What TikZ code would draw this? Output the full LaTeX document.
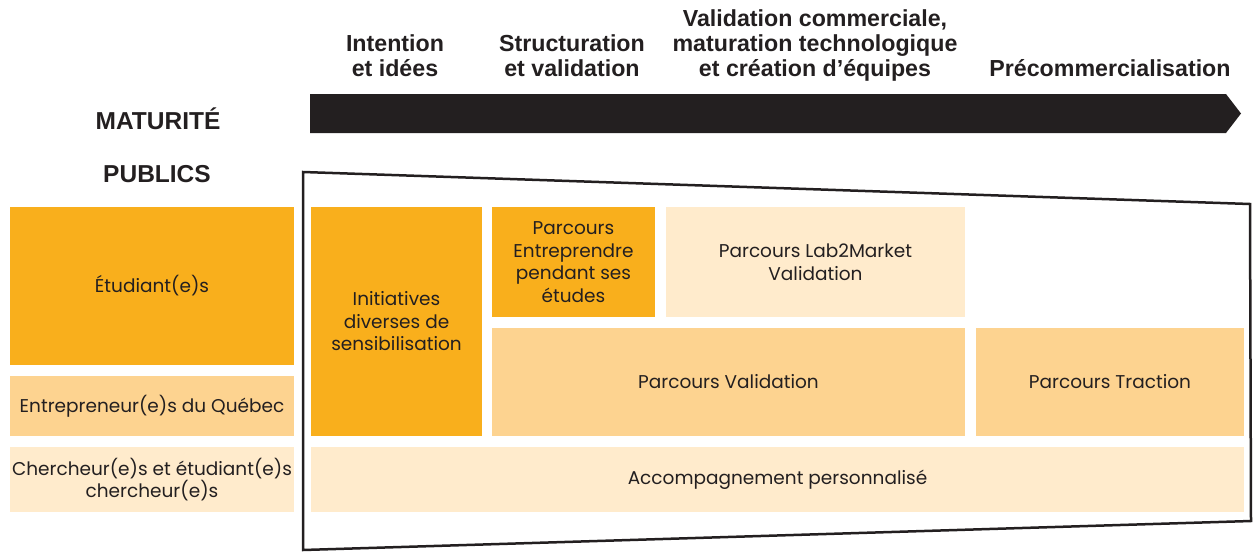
\documentclass[tikz,border=0pt]{standalone}
\usepackage{fontspec}
\setmainfont{Poppins}
\newfontfamily\headfont{Liberation Sans}
\usetikzlibrary{positioning}
\definecolor{deeporange}{RGB}{249,175,28}
\definecolor{midorange}{RGB}{253,211,144}
\definecolor{paleorange}{RGB}{255,235,204}
\definecolor{inkdark}{RGB}{35,31,32}

\begin{document}
\begin{tikzpicture}[
    x=1pt, y=-1pt,
    cell/.style={rectangle, inner sep=2pt, outer sep=0pt, align=center, text=inkdark, font=\fontsize{18.5}{22.5}\selectfont},
    phase/.style={align=center, text=inkdark, font=\headfont\fontsize{23.2}{25}\selectfont\bfseries},
    rowtitle/.style={text=inkdark, font=\headfont\fontsize{24.5}{26}\selectfont\bfseries}
]
    \useasboundingbox (0,0) rectangle (1254,552);

    % Maturity phases
    \node[phase] (intention) at (395, 56) {Intention\\et idées};
    \node[phase] (structure) at (572, 56) {Structuration\\et validation};
    \node[phase] (commerce) at (815, 45.5) {Validation commerciale,\\maturation technologique\\et création d’équipes};
    \node[phase] (precomm) at (1110, 68) {Précommercialisation};

    % Row titles
    \node[rowtitle] (maturite) at (158, 119) {MATURITÉ};
    \node[rowtitle] (publics) at (157, 174) {PUBLICS};

    % Maturity arrow bar
    \fill[inkdark] (310,94) -- (1226,94) -- (1241,113.5) -- (1226,133) -- (310,133) -- cycle;

    % Funnel outline
    \draw[inkdark, line width=2.5pt, line join=miter] (303,172) -- (1250,204) -- (1251,521) -- (303,550) -- cycle;

    % Audiences
    \node[cell, fill=deeporange, minimum width=284, minimum height=158] (etudiants) at (152, 286) {Étudiant(e)s};
    \node[cell, fill=midorange, minimum width=284, minimum height=60] (entrepreneurs) at (152, 406) {Entrepreneur(e)s du Québec};
    \node[cell, fill=paleorange, minimum width=284, minimum height=65] (chercheurs) at (152, 479.5) {Chercheur(e)s et étudiant(e)s\\chercheur(e)s};

    % Programs
    \node[cell, fill=deeporange, minimum width=171, minimum height=229] (initiatives) at (396.5, 321.5) {Initiatives\\diverses de\\sensibilisation};
    \node[cell, fill=deeporange, minimum width=163, minimum height=110] (entreprendre) at (573.5, 262) {Parcours\\Entreprendre\\pendant ses\\études};
    \node[cell, fill=paleorange, minimum width=299, minimum height=110] (lab2market) at (815.5, 262) {Parcours Lab2Market\\Validation};
    \node[cell, fill=midorange, minimum width=473, minimum height=108] (validation) at (728.5, 382) {Parcours Validation};
    \node[cell, fill=midorange, minimum width=268, minimum height=108] (traction) at (1110, 382) {Parcours Traction};
    \node[cell, fill=paleorange, minimum width=933, minimum height=65] (accompagnement) at (777.5, 479.5) {Accompagnement personnalisé};

\end{tikzpicture}
\end{document}
